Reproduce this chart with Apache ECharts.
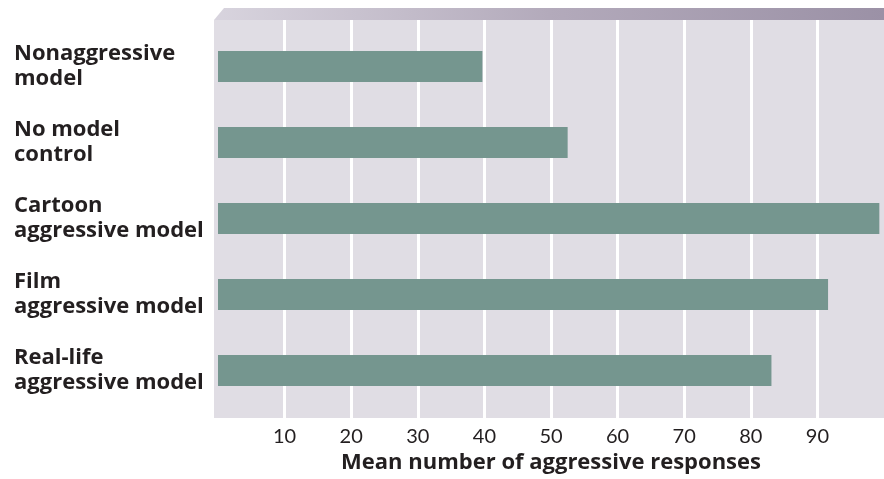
<!DOCTYPE html>
<html>
<head>
<meta charset="utf-8">
<script src="https://cdn.jsdelivr.net/npm/echarts@6/dist/echarts.min.js"></script>
<style>html,body{margin:0;padding:0;background:#fff;}#c{width:884px;height:479px;}</style>
</head>
<body>
<div id="c"></div>
<script>
const categories = [
  "Nonaggressive\nmodel",
  "No model\ncontrol",
  "Cartoon\naggressive model",
  "Film\naggressive model",
  "Real-life\naggressive model"
];
const values = [39.7, 52.5, 99.3, 91.6, 83.1];
const xTickLabels = ["10", "20", "30", "40", "50", "60", "70", "80", "90"];
const xAxisTitle = "Mean number of aggressive responses";

const chart = echarts.init(document.getElementById('c'), null, {renderer: 'canvas'});
const LFONT = 'Open Sans';
const TFONT = 'Lato';
chart.setOption({
  animation: false,
  graphic: [
    {type: 'rect', z: -10, silent: true, shape: {x: 214, y: 20, width: 670, height: 398}, style: {fill: '#e0dde4'}},
    {type: 'polygon', z: -10, silent: true,
      shape: {points: [[214, 20], [224, 8], [884, 8], [884, 20]]},
      style: {fill: new echarts.graphic.LinearGradient(0, 0, 1, 0, [
        {offset: 0, color: '#d8d4de'}, {offset: 0.5, color: '#b3aabb'}, {offset: 1, color: '#9b91a6'}
      ])}}
  ],
  grid: [
    {left: 218, right: 0, top: 20, height: 398},
    {left: 218, right: 0, top: 28.5, height: 380}
  ],
  xAxis: [
    {gridIndex: 0, type: 'value', min: 0, max: 100, interval: 10,
      axisLine: {show: false}, axisTick: {show: false},
      splitLine: {show: true, showMinLine: false, showMaxLine: false, lineStyle: {color: '#ffffff', width: 3}},
      axisLabel: {show: true, showMinLabel: false, showMaxLabel: false, margin: 9,
        fontFamily: TFONT, fontSize: 20, color: '#231f20',
        formatter: function (v) { const s = String(v); return xTickLabels.indexOf(s) >= 0 ? s : ''; }},
      name: xAxisTitle, nameLocation: 'middle', nameGap: 33,
      nameTextStyle: {fontFamily: LFONT, fontWeight: 'bold', fontSize: 22, color: '#231f20'}
    },
    {gridIndex: 1, type: 'value', min: 0, max: 100, show: false, splitLine: {show: false}}
  ],
  yAxis: [
    {gridIndex: 0, type: 'category', data: categories, show: false},
    {gridIndex: 1, type: 'category', data: categories, inverse: true,
      axisLine: {show: false}, axisTick: {show: false}, splitLine: {show: false},
      axisLabel: {align: 'left', margin: 204, fontFamily: LFONT, fontWeight: 'bold', fontSize: 22,
        lineHeight: 25, color: '#231f20'}}
  ],
  series: [{
    type: 'bar', xAxisIndex: 1, yAxisIndex: 1, data: values,
    barWidth: 31, itemStyle: {color: '#75968f'}
  }]
});
</script>
</body>
</html>
